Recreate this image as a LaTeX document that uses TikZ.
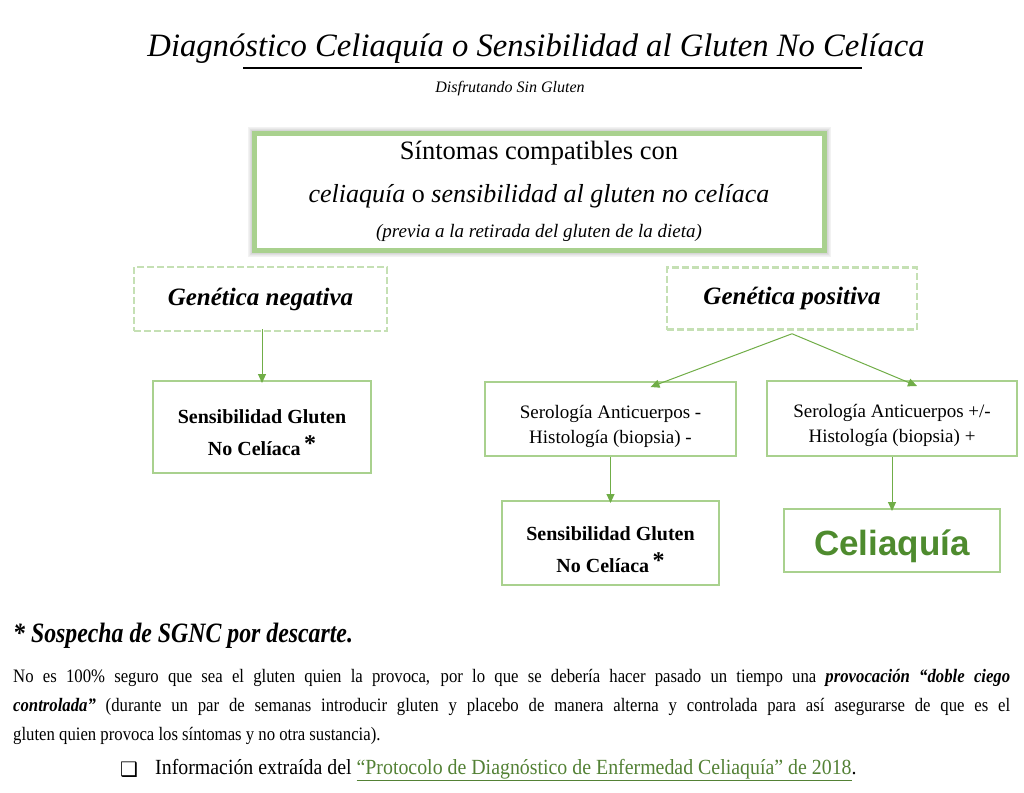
\documentclass[tikz,border=0pt]{standalone}
\usepackage{fontspec}
\usepackage{graphicx}
\setmainfont{Liberation Serif}
\newfontfamily\condserif[FakeStretch=0.88]{Liberation Serif}
\newfontfamily\srcserif[FakeStretch=0.92]{Liberation Serif}
\newfontfamily\headserif[FakeStretch=0.85]{Liberation Serif}
\newfontfamily\arialfont{Liberation Sans}
\newfontfamily\symfont{DejaVu Sans}
\usetikzlibrary{arrows.meta}
\definecolor{boxgreen}{HTML}{A9D18E}
\definecolor{dashgreen}{HTML}{C5E0B4}
\definecolor{arrowgreen}{HTML}{70AD47}
\definecolor{darkgreen}{HTML}{4E8B2E}
\definecolor{linkgreen}{HTML}{538135}
\tikzset{
  solidbox/.style={draw=boxgreen, line width=2pt, fill=white, align=center, inner sep=0pt},
  dashbox/.style={draw=dashgreen, line width=2.5pt, dash pattern=on 7pt off 3pt, align=center, inner sep=0pt},
  arr/.style={draw=arrowgreen, line width=1pt, -{Triangle[length=9pt,width=8pt]}},
  plain/.style={inner sep=0pt, align=center},
  sgnc/.style={solidbox, font={\fontsize{20}{32}\selectfont\bfseries}},
  sero/.style={solidbox, font={\fontsize{19}{25}\selectfont}},
  genet/.style={dashbox, font={\fontsize{25}{25}\selectfont\bfseries\itshape}},
}
\newcommand{\bigast}{\,\raisebox{4pt}{\fontsize{24}{24}\selectfont *}}
\newcommand{\lift}[1]{\rule{0pt}{#1pt}}
\begin{document}
\begin{tikzpicture}[x=1pt,y=-1pt]
\useasboundingbox (0,0) rectangle (1024,792);
% title
\node[plain] (title) at (536,49) {\resizebox{777pt}{!}{\itshape Diagnóstico Celiaquía o Sensibilidad al Gluten No Celíaca}};
\draw[line width=1.5pt] (243,68) -- (862,68);
\node[plain, font={\fontsize{16}{16}\selectfont\itshape}] (subtitle) at (510,89) {Disfrutando Sin Gluten};
% top box with soft shadow
\foreach \d/\o in {6/0.05,5/0.08,4/0.12,3/0.16,2/0.2,1/0.25} {
  \draw[black, opacity=\o, line width=1pt] (254-\d,133-\d) rectangle (824+\d,250+\d);
}
\node[draw=boxgreen, line width=5pt, fill=white, minimum width=570pt, minimum height=117pt, inner sep=0pt] (top) at (539,191.5) {};
\node[plain, font={\fontsize{26.5}{26.5}\selectfont}] (t1) at (539,153) {Síntomas compatibles con};
\node[plain, font={\fontsize{26}{26}\selectfont}] (t2) at (539,196) {\itshape celiaquía \upshape o \itshape sensibilidad al gluten no celíaca};
\node[plain, font={\fontsize{19}{19}\selectfont\itshape}] (t3) at (539,233) {(previa a la retirada del gluten de la dieta)};
% genetics
\node[genet, minimum width=253pt, minimum height=64pt] (neg) at (260.5,299) {Genética negativa};
\node[genet, minimum width=250pt, minimum height=62pt] (pos) at (792,298.5) {Genética positiva};
% result boxes
\node[sgnc, minimum width=218pt, minimum height=92pt] (sg1) at (262,427) {\lift{26}Sensibilidad Gluten\\No Celíaca\bigast};
\node[sero, minimum width=251pt, minimum height=74pt] (serneg) at (610.5,419) {\lift{29}Serología Anticuerpos -\\Histología (biopsia) -};
\node[sero, minimum width=250pt, minimum height=75pt] (serpos) at (892,418.5) {\lift{27}Serología Anticuerpos +/-\\Histología (biopsia) +};
\node[sgnc, minimum width=217pt, minimum height=84pt] (sg2) at (610.5,543) {\lift{28}Sensibilidad Gluten\\No Celíaca\bigast};
\node[solidbox, minimum width=216pt, minimum height=63pt, font={\fontsize{35}{35}\selectfont\arialfont\bfseries}, text=darkgreen] (cel) at (892,540.5) {\lift{38}Celiaquía};
% connectors
\draw[arr] ([yshift=3pt]neg.south -| sg1.north) -- ([yshift=-3pt]sg1.north);
\coordinate (pj) at ([yshift=-3pt]pos.south);
\draw[arr] (pj) -- ([xshift=40pt,yshift=-6pt]serneg.north);
\draw[arr] (pj) -- ([xshift=25pt,yshift=-6pt]serpos.north);
\draw[arr] (serneg.south) -- ([yshift=-3pt]sg2.north);
\draw[arr] (serpos.south) -- ([yshift=-3pt]cel.north);
% footnote text
\node[plain, anchor=west, font={\fontsize{28}{28}\selectfont\headserif\bfseries\itshape}] (star) at (13,636) {* Sospecha de SGNC por descarte.};
\node[inner sep=0pt, anchor=north west, text width=997pt, align=justify, font={\fontsize{19}{29}\selectfont\condserif}] (para) at (13,669) {No es 100\% seguro que sea el gluten quien la provoca, por lo que se debería hacer pasado un tiempo una \textbf{\textit{provocación “doble ciego}}\linebreak \textbf{\textit{controlada”}} (durante un par de semanas introducir gluten y placebo de manera alterna y controlada para así asegurarse de que es el\linebreak gluten quien provoca los síntomas y no otra sustancia).\par};
\node[plain, anchor=west, font={\fontsize{20}{20}\selectfont\symfont}] (box) at (120,770) {❑};
\node[plain, anchor=west, font={\fontsize{21.6}{21.6}\selectfont\srcserif}] (src) at (155,770) {Información extraída del {\color{linkgreen}\underline{“Protocolo de Diagnóstico de Enfermedad Celiaquía” de 2018}}.};
\end{tikzpicture}
\end{document}
